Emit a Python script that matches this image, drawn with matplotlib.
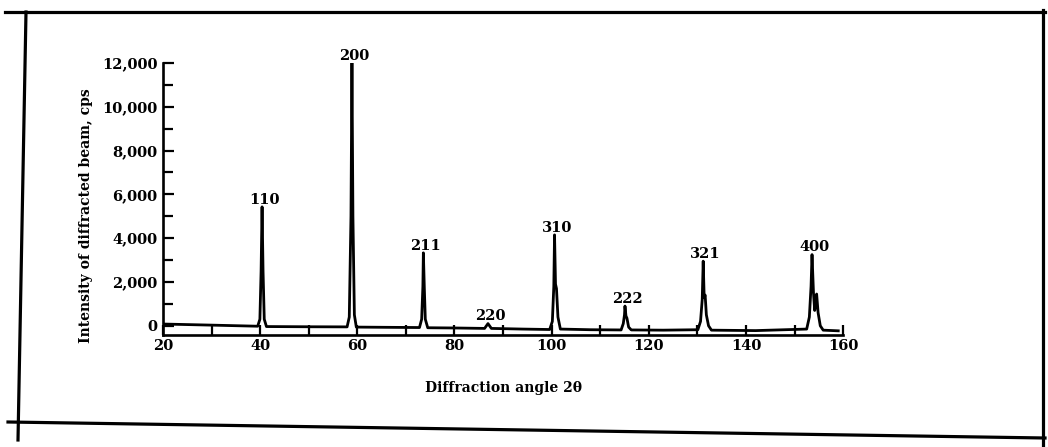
import matplotlib
matplotlib.use("Agg")
import matplotlib.pyplot as plt
from matplotlib.lines import Line2D
from matplotlib.ticker import MultipleLocator, FuncFormatter

# diffractometer trace (2-theta in degrees, intensity in cps)
two_theta = [20, 30, 39.5, 39.95, 40.2, 40.4, 40.6, 40.85, 41.3,
             50, 57.9, 58.35, 58.7, 58.9, 59.1, 59.4, 59.8,
             66, 72.8, 73.25, 73.5, 73.6, 73.8, 74.0, 74.5,
             80, 86.2, 86.9, 87.6,
             94, 99.6, 100.15, 100.45, 100.6, 100.8, 101.0, 101.3, 101.8,
             108, 114.3, 114.75, 115.0, 115.1, 115.3, 115.5, 115.85, 116.4,
             123, 130.1, 130.65, 131.0, 131.2, 131.4, 131.6, 131.85, 132.3, 132.9,
             142, 152.5, 153.05, 153.4, 153.6, 153.9, 154.15, 154.35, 154.55,
             154.85, 155.3, 155.9, 159]
intensity = [80, 30, -20, 300, 2500, 5430, 2500, 300, -35,
             -45, -50, 400, 5000, 12000, 5000, 500, -60,
             -70, -80, 300, 1800, 3330, 1700, 300, -90,
             -100, -120, 100, -120,
             -150, -170, 200, 1800, 4150, 1900, 1700, 400, -150,
             -180, -190, 100, 500, 900, 450, 350, -60, -190,
             -200, -180, 200, 1200, 2950, 1300, 1400, 500, 0, -200,
             -220, -150, 400, 1800, 3250, 1500, 700, 1000, 1450,
             600, 0, -200, -230]

# reflection labels (Miller indices) and where their peaks sit
peak_hkl = ['110', '200', '211', '220', '310', '222', '321', '400']
peak_angle = [40.4, 58.9, 73.6, 86.9, 100.6, 115.1, 131.2, 153.6]
peak_top = [5430, 12000, 3330, 100, 4150, 900, 2950, 3250]

FONT = 'DejaVu Serif'
plt.rcParams['font.family'] = [FONT, 'DejaVu Sans']

fig = plt.figure(figsize=(10.48, 4.47), dpi=100)
ax = fig.add_axes([0.1555, 0.2506, 0.649, 0.6085])

ax.plot(two_theta, intensity, color='black', lw=2.0, solid_joinstyle='round')

for hkl, x, y in zip(peak_hkl, peak_angle, peak_top):
    ax.text(x + 0.5, y + 330, hkl, ha='center', va='center',
            fontsize=10.5, fontweight='bold', color='black')

ax.set_xlim(20, 160)
ax.set_ylim(-420, 12000)

for side in ('top', 'right'):
    ax.spines[side].set_visible(False)
ax.spines['left'].set_bounds(-420, 12000)
for side in ('left', 'bottom'):
    ax.spines[side].set_linewidth(1.9)

ax.xaxis.set_major_locator(MultipleLocator(20))
ax.xaxis.set_minor_locator(MultipleLocator(10))
ax.yaxis.set_major_locator(MultipleLocator(2000))
ax.yaxis.set_minor_locator(MultipleLocator(1000))
ax.yaxis.set_major_formatter(FuncFormatter(lambda v, p: f'{int(v):,}'))
ax.tick_params(axis='both', which='both', direction='in', width=1.6,
               labelsize=10.5)
ax.tick_params(axis='y', which='major', length=8, pad=4)
ax.tick_params(axis='y', which='minor', length=7)
ax.tick_params(axis='x', which='both', length=7, pad=3)
for lab in ax.get_xticklabels() + ax.get_yticklabels():
    lab.set_fontweight('bold')

ax.set_xlabel('Diffraction angle 2θ', fontsize=10, fontweight='bold', labelpad=20)
ax.set_ylabel('Intensity of diffracted beam, cps', fontsize=10,
              fontweight='bold')
ax.yaxis.set_label_coords(-0.103, 0.44)

# scanned page frame
W, H = 1048, 447
frame = [((5, 1045), (12, 12)), ((26, 18), (12, 440)),
         ((8, 1045), (422, 438)), ((1043, 1043), (10, 445))]
for xs, ys in frame:
    fig.add_artist(Line2D([xs[0] / W, xs[1] / W], [1 - ys[0] / H, 1 - ys[1] / H],
                          transform=fig.transFigure, color='black', lw=2.3))

fig.savefig('out.png', dpi=100)
